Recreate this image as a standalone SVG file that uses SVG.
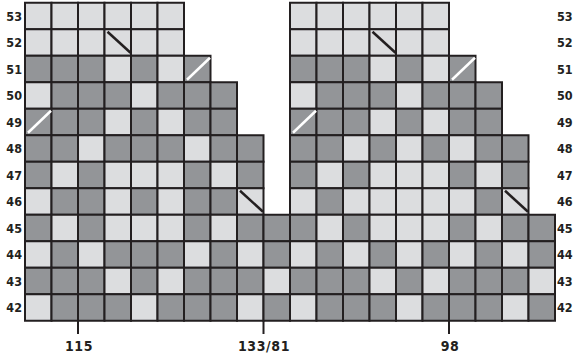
<svg xmlns="http://www.w3.org/2000/svg" xmlns:xlink="http://www.w3.org/1999/xlink" width="574" height="359" viewBox="0 0 574 359">
<style>
.c{stroke:#231f20;stroke-width:2}
.l{fill:#dcdddf}
.k{fill:#939598}
.lab{font-family:"DejaVu Sans Condensed","Liberation Sans",sans-serif;font-weight:bold;font-size:12.5px;fill:#231f20}
.bl{font-family:"DejaVu Sans Condensed","Liberation Sans",sans-serif;font-weight:bold;font-size:14px;fill:#231f20;letter-spacing:0.6px}
.bd{stroke:#231f20;stroke-width:2.5}
.wd{stroke:#ffffff;stroke-width:2.5}
.tk{stroke:#231f20;stroke-width:2}
</style>
<defs>
<rect id="L" class="c l" width="26.5" height="26.5"/>
<rect id="D" class="c k" width="26.5" height="26.5"/>
</defs>
<g id="grid" transform="translate(25,2.75)">
<g id="r53">
<use href="#L" x="0" y="0"/><use href="#L" x="26.5" y="0"/><use href="#L" x="53" y="0"/><use href="#L" x="79.5" y="0"/><use href="#L" x="106" y="0"/><use href="#L" x="132.5" y="0"/>
<use href="#L" x="265" y="0"/><use href="#L" x="291.5" y="0"/><use href="#L" x="318" y="0"/><use href="#L" x="344.5" y="0"/><use href="#L" x="371" y="0"/><use href="#L" x="397.5" y="0"/>
</g>
<g id="r52">
<use href="#L" x="0" y="26.5"/><use href="#L" x="26.5" y="26.5"/><use href="#L" x="53" y="26.5"/><use href="#L" x="79.5" y="26.5"/><use href="#L" x="106" y="26.5"/><use href="#L" x="132.5" y="26.5"/>
<use href="#L" x="265" y="26.5"/><use href="#L" x="291.5" y="26.5"/><use href="#L" x="318" y="26.5"/><use href="#L" x="344.5" y="26.5"/><use href="#L" x="371" y="26.5"/><use href="#L" x="397.5" y="26.5"/>
</g>
<g id="r51">
<use href="#D" x="0" y="53"/><use href="#D" x="26.5" y="53"/><use href="#D" x="53" y="53"/><use href="#L" x="79.5" y="53"/><use href="#D" x="106" y="53"/><use href="#L" x="132.5" y="53"/><use href="#D" x="159" y="53"/>
<use href="#D" x="265" y="53"/><use href="#D" x="291.5" y="53"/><use href="#D" x="318" y="53"/><use href="#L" x="344.5" y="53"/><use href="#D" x="371" y="53"/><use href="#L" x="397.5" y="53"/><use href="#D" x="424" y="53"/>
</g>
<g id="r50">
<use href="#L" x="0" y="79.5"/><use href="#D" x="26.5" y="79.5"/><use href="#D" x="53" y="79.5"/><use href="#D" x="79.5" y="79.5"/><use href="#L" x="106" y="79.5"/><use href="#D" x="132.5" y="79.5"/><use href="#D" x="159" y="79.5"/><use href="#D" x="185.5" y="79.5"/>
<use href="#L" x="265" y="79.5"/><use href="#D" x="291.5" y="79.5"/><use href="#D" x="318" y="79.5"/><use href="#D" x="344.5" y="79.5"/><use href="#L" x="371" y="79.5"/><use href="#D" x="397.5" y="79.5"/><use href="#D" x="424" y="79.5"/><use href="#D" x="450.5" y="79.5"/>
</g>
<g id="r49">
<use href="#D" x="0" y="106"/><use href="#D" x="26.5" y="106"/><use href="#D" x="53" y="106"/><use href="#L" x="79.5" y="106"/><use href="#D" x="106" y="106"/><use href="#L" x="132.5" y="106"/><use href="#D" x="159" y="106"/><use href="#D" x="185.5" y="106"/>
<use href="#D" x="265" y="106"/><use href="#D" x="291.5" y="106"/><use href="#D" x="318" y="106"/><use href="#L" x="344.5" y="106"/><use href="#D" x="371" y="106"/><use href="#L" x="397.5" y="106"/><use href="#D" x="424" y="106"/><use href="#D" x="450.5" y="106"/>
</g>
<g id="r48">
<use href="#D" x="0" y="132.5"/><use href="#D" x="26.5" y="132.5"/><use href="#L" x="53" y="132.5"/><use href="#D" x="79.5" y="132.5"/><use href="#D" x="106" y="132.5"/><use href="#D" x="132.5" y="132.5"/><use href="#L" x="159" y="132.5"/><use href="#D" x="185.5" y="132.5"/><use href="#D" x="212" y="132.5"/>
<use href="#D" x="265" y="132.5"/><use href="#D" x="291.5" y="132.5"/><use href="#L" x="318" y="132.5"/><use href="#D" x="344.5" y="132.5"/><use href="#L" x="371" y="132.5"/><use href="#D" x="397.5" y="132.5"/><use href="#L" x="424" y="132.5"/><use href="#D" x="450.5" y="132.5"/><use href="#D" x="477" y="132.5"/>
</g>
<g id="r47">
<use href="#D" x="0" y="159"/><use href="#L" x="26.5" y="159"/><use href="#D" x="53" y="159"/><use href="#L" x="79.5" y="159"/><use href="#L" x="106" y="159"/><use href="#L" x="132.5" y="159"/><use href="#D" x="159" y="159"/><use href="#L" x="185.5" y="159"/><use href="#D" x="212" y="159"/>
<use href="#D" x="265" y="159"/><use href="#L" x="291.5" y="159"/><use href="#D" x="318" y="159"/><use href="#L" x="344.5" y="159"/><use href="#L" x="371" y="159"/><use href="#L" x="397.5" y="159"/><use href="#D" x="424" y="159"/><use href="#L" x="450.5" y="159"/><use href="#D" x="477" y="159"/>
</g>
<g id="r46">
<use href="#L" x="0" y="185.5"/><use href="#D" x="26.5" y="185.5"/><use href="#D" x="53" y="185.5"/><use href="#L" x="79.5" y="185.5"/><use href="#D" x="106" y="185.5"/><use href="#L" x="132.5" y="185.5"/><use href="#D" x="159" y="185.5"/><use href="#D" x="185.5" y="185.5"/><use href="#L" x="212" y="185.5"/>
<use href="#L" x="265" y="185.5"/><use href="#D" x="291.5" y="185.5"/><use href="#L" x="318" y="185.5"/><use href="#L" x="344.5" y="185.5"/><use href="#L" x="371" y="185.5"/><use href="#L" x="397.5" y="185.5"/><use href="#L" x="424" y="185.5"/><use href="#D" x="450.5" y="185.5"/><use href="#L" x="477" y="185.5"/>
</g>
<g id="r45">
<use href="#D" x="0" y="212"/><use href="#L" x="26.5" y="212"/><use href="#D" x="53" y="212"/><use href="#L" x="79.5" y="212"/><use href="#L" x="106" y="212"/><use href="#L" x="132.5" y="212"/><use href="#D" x="159" y="212"/><use href="#L" x="185.5" y="212"/><use href="#D" x="212" y="212"/><use href="#D" x="238.5" y="212"/>
<use href="#D" x="265" y="212"/><use href="#L" x="291.5" y="212"/><use href="#D" x="318" y="212"/><use href="#L" x="344.5" y="212"/><use href="#L" x="371" y="212"/><use href="#L" x="397.5" y="212"/><use href="#D" x="424" y="212"/><use href="#L" x="450.5" y="212"/><use href="#D" x="477" y="212"/><use href="#D" x="503.5" y="212"/>
</g>
<g id="r44">
<use href="#L" x="0" y="238.5"/><use href="#D" x="26.5" y="238.5"/><use href="#L" x="53" y="238.5"/><use href="#D" x="79.5" y="238.5"/><use href="#D" x="106" y="238.5"/><use href="#D" x="132.5" y="238.5"/><use href="#L" x="159" y="238.5"/><use href="#D" x="185.5" y="238.5"/><use href="#L" x="212" y="238.5"/><use href="#D" x="238.5" y="238.5"/>
<use href="#L" x="265" y="238.5"/><use href="#D" x="291.5" y="238.5"/><use href="#L" x="318" y="238.5"/><use href="#D" x="344.5" y="238.5"/><use href="#L" x="371" y="238.5"/><use href="#D" x="397.5" y="238.5"/><use href="#L" x="424" y="238.5"/><use href="#D" x="450.5" y="238.5"/><use href="#L" x="477" y="238.5"/><use href="#D" x="503.5" y="238.5"/>
</g>
<g id="r43">
<use href="#D" x="0" y="265"/><use href="#D" x="26.5" y="265"/><use href="#D" x="53" y="265"/><use href="#L" x="79.5" y="265"/><use href="#D" x="106" y="265"/><use href="#L" x="132.5" y="265"/><use href="#D" x="159" y="265"/><use href="#D" x="185.5" y="265"/><use href="#D" x="212" y="265"/><use href="#L" x="238.5" y="265"/>
<use href="#D" x="265" y="265"/><use href="#D" x="291.5" y="265"/><use href="#D" x="318" y="265"/><use href="#L" x="344.5" y="265"/><use href="#D" x="371" y="265"/><use href="#L" x="397.5" y="265"/><use href="#D" x="424" y="265"/><use href="#D" x="450.5" y="265"/><use href="#D" x="477" y="265"/><use href="#L" x="503.5" y="265"/>
</g>
<g id="r42">
<use href="#L" x="0" y="291.5"/><use href="#D" x="26.5" y="291.5"/><use href="#D" x="53" y="291.5"/><use href="#D" x="79.5" y="291.5"/><use href="#L" x="106" y="291.5"/><use href="#D" x="132.5" y="291.5"/><use href="#D" x="159" y="291.5"/><use href="#D" x="185.5" y="291.5"/><use href="#L" x="212" y="291.5"/><use href="#D" x="238.5" y="291.5"/>
<use href="#L" x="265" y="291.5"/><use href="#D" x="291.5" y="291.5"/><use href="#D" x="318" y="291.5"/><use href="#D" x="344.5" y="291.5"/><use href="#L" x="371" y="291.5"/><use href="#D" x="397.5" y="291.5"/><use href="#D" x="424" y="291.5"/><use href="#D" x="450.5" y="291.5"/><use href="#L" x="477" y="291.5"/><use href="#D" x="503.5" y="291.5"/>
</g>
<g id="marks">
<line class="bd" x1="82.5" y1="29" x2="105.5" y2="50"/>
<line class="bd" x1="347.5" y1="29" x2="370.5" y2="50"/>
<line class="bd" x1="215" y1="188" x2="238" y2="209"/>
<line class="bd" x1="480" y1="188" x2="503" y2="209"/>
<line class="wd" x1="162" y1="77" x2="185" y2="55"/>
<line class="wd" x1="427" y1="77" x2="450" y2="55"/>
<line class="wd" x1="3" y1="130" x2="26" y2="108"/>
<line class="wd" x1="268" y1="130" x2="291" y2="108"/>
</g>
</g>
<g id="ticks">
<line class="tk" x1="78" y1="320" x2="78" y2="334"/>
<line class="tk" x1="263.5" y1="320" x2="263.5" y2="334"/>
<line class="tk" x1="449" y1="320" x2="449" y2="334"/>
</g>
<g id="rowlabels-left" class="lab" text-anchor="end">
<text x="22" y="20.5">53</text>
<text x="22" y="47">52</text>
<text x="22" y="73.5">51</text>
<text x="22" y="100">50</text>
<text x="22" y="126.5">49</text>
<text x="22" y="153">48</text>
<text x="22" y="179.5">47</text>
<text x="22" y="206">46</text>
<text x="22" y="232.5">45</text>
<text x="22" y="259">44</text>
<text x="22" y="285.5">43</text>
<text x="22" y="312">42</text>
</g>
<g id="rowlabels-right" class="lab">
<text x="557" y="20.5">53</text>
<text x="557" y="47">52</text>
<text x="557" y="73.5">51</text>
<text x="557" y="100">50</text>
<text x="557" y="126.5">49</text>
<text x="557" y="153">48</text>
<text x="557" y="179.5">47</text>
<text x="557" y="206">46</text>
<text x="557" y="232.5">45</text>
<text x="557" y="259">44</text>
<text x="557" y="285.5">43</text>
<text x="557" y="312">42</text>
</g>
<g id="bottomlabels" class="bl" text-anchor="middle">
<text x="79" y="351">115</text>
<text x="264" y="351">133/81</text>
<text x="450" y="351">98</text>
</g>
</svg>
